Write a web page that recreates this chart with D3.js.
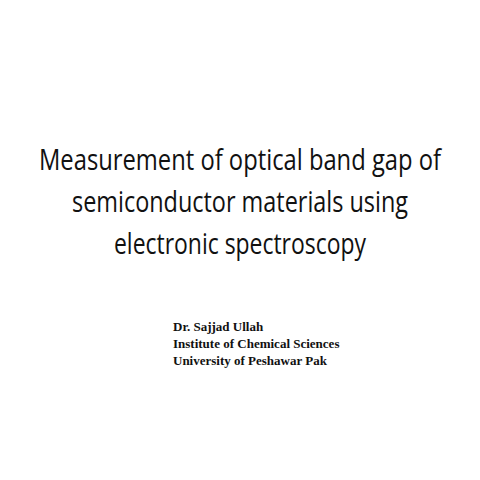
<!DOCTYPE html>
<html><head><meta charset="utf-8">
<script src="https://cdn.jsdelivr.net/npm/d3@7"></script>
<style>body{margin:0;background:#fff}</style>
</head><body>
<script>
var titleLines = ["Measurement of optical band gap of", "semiconductor materials using", "electronic spectroscopy"];
var titleWidths = [402, 336, 252];
var authorLines = ["Dr. Sajjad Ullah", "Institute of Chemical Sciences", "University of Peshawar Pak"];

var svg = d3.select("body").append("svg").attr("width", 480).attr("height", 480);
svg.append("rect").attr("width", 480).attr("height", 480).attr("fill", "#fff");

var yT = d3.scaleLinear().domain([0, 2]).range([170, 254]);
svg.selectAll("text.title").data(titleLines).enter().append("text")
  .attr("class", "title")
  .attr("x", 240).attr("y", function (d, i) { return yT(i); })
  .attr("text-anchor", "middle")
  .attr("font-family", "Open Sans, sans-serif")
  .attr("font-size", 30)
  .attr("textLength", function (d, i) { return titleWidths[i]; })
  .attr("lengthAdjust", "spacingAndGlyphs")
  .attr("fill", "#111")
  .text(function (d) { return d; });

var yA = d3.scaleLinear().domain([0, 2]).range([331, 365]);
svg.selectAll("text.author").data(authorLines).enter().append("text")
  .attr("class", "author")
  .attr("x", 173).attr("y", function (d, i) { return yA(i); })
  .attr("font-family", "Liberation Serif, serif")
  .attr("font-weight", "bold")
  .attr("font-size", 13)
  .attr("fill", "#111")
  .text(function (d) { return d; });
</script>
</body></html>
